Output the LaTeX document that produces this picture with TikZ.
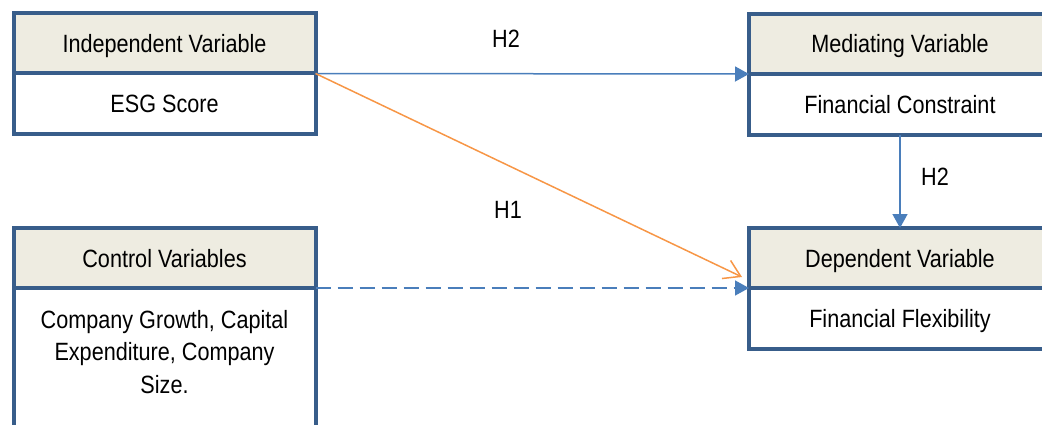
\documentclass[tikz,border=0pt]{standalone}
\usepackage{fontspec}
\setmainfont{Liberation Sans}[FakeStretch=0.865]
\usetikzlibrary{arrows.meta}

\definecolor{boxblue}{HTML}{385D8A}
\definecolor{hdrfill}{HTML}{EEECE1}
\definecolor{linkblue}{HTML}{4A7EBB}
\definecolor{linkorange}{HTML}{F79646}

\newcommand\diagfont{\fontsize{25}{32.8}\selectfont}

\tikzset{
  hdr/.style={draw=boxblue, line width=4pt, fill=hdrfill, outer sep=0pt,
    inner sep=0pt, minimum width=302pt, minimum height=60pt, font=\diagfont,
    text height=18pt, text depth=0pt},
  bodybox/.style={draw=boxblue, line width=4pt, fill=white, outer sep=0pt,
    inner sep=0pt, minimum width=302pt, minimum height=61pt, font=\diagfont,
    text height=18pt, text depth=0pt},
  frameside/.style={draw=boxblue, line width=4pt},
  lbl/.style={inner sep=0pt, font=\diagfont},
  bluelink/.style={draw=linkblue, line width=1.5pt,
    -{Triangle[length=14pt, width=15pt]}},
  orangelink/.style={draw=linkorange, line width=1.5pt,
    -{Straight Barb[length=16pt, width=20pt]}},
}

\begin{document}
\begin{tikzpicture}[x=1pt, y=-1pt]
  \useasboundingbox (0,0) rectangle (1042,425);
  \clip (0,0) rectangle (1042,425);

  % Independent variable
  \node[hdr, anchor=north west] (ind-h) at (13.5,13.5) {Independent Variable};
  \node[bodybox, anchor=north west] (ind-b) at (ind-h.south west) {ESG Score};

  % Control variables (box runs past the lower edge)
  \node[hdr, anchor=north west] (ctl-h) at (13.5,228) {Control Variables};
  \node[inner sep=0pt, outer sep=0pt, minimum width=302pt, minimum height=128pt,
        font=\diagfont, align=center, anchor=north west] (ctl-b) at (ctl-h.south west)
        {Company Growth, Capital\\Expenditure, Company\\Size.};
  \draw[frameside] (ctl-b.north west) -- ++(0,160);
  \draw[frameside] (ctl-b.north east) -- ++(0,160);

  % Mediating variable (box runs past the right edge)
  \node[hdr, anchor=north west] (med-h) at (749,14) {Mediating Variable};
  \node[bodybox, anchor=north west] (med-b) at (med-h.south west) {Financial Constraint};

  % Dependent variable
  \node[hdr, anchor=north west] (dep-h) at (749,228) {Dependent Variable};
  \node[bodybox, anchor=north west] (dep-b) at (dep-h.south west) {Financial Flexibility};

  % Hypothesis paths
  \coordinate (h1end) at ([shift={(-7,-11)}]dep-h.south west);
  \draw[bluelink] (ind-h.south east) -- (med-h.south west);
  \draw[orangelink] (ind-h.south east) -- (h1end);
  \draw[bluelink] (med-b.south) -- (dep-h.north);
  \draw[bluelink, dash pattern=on 15pt off 7pt] (ctl-h.south east) -- (dep-h.south west);

  \node[lbl] (lab-h2a) at (506,39) {H2};
  \node[lbl] (lab-h2b) at (935,177) {H2};
  \node[lbl] (lab-h1) at (508,210) {H1};
\end{tikzpicture}
\end{document}
